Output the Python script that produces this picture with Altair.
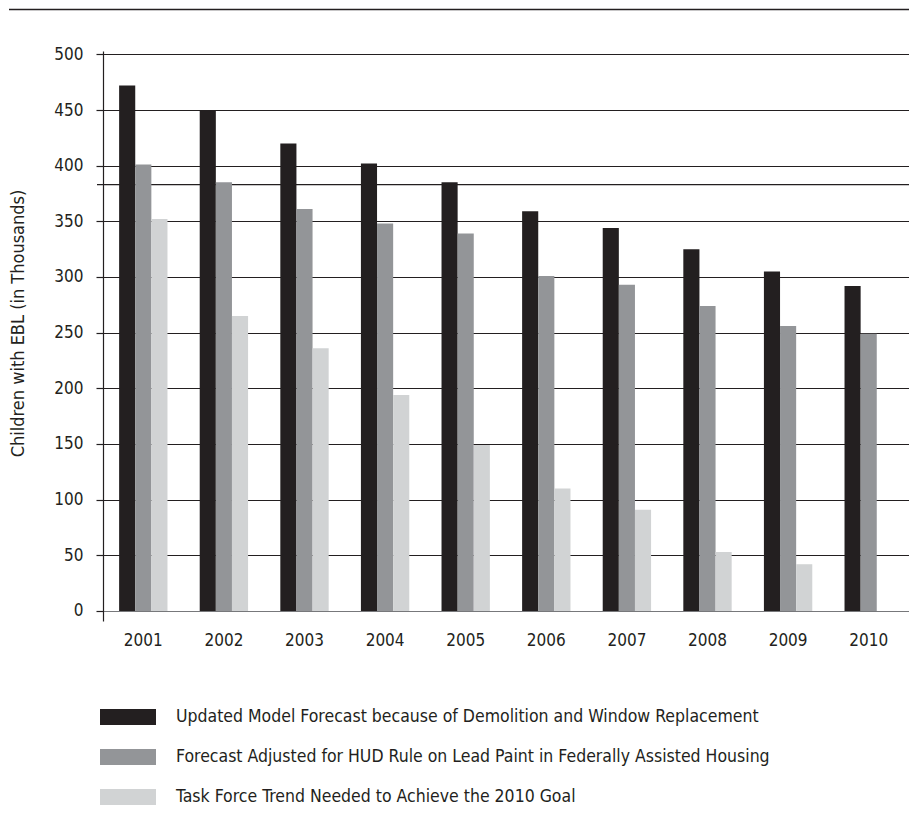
import altair as alt
import pandas as pd

years = ["2001", "2002", "2003", "2004", "2005", "2006", "2007", "2008", "2009", "2010"]
series = [
    "Updated Model Forecast because of Demolition and Window Replacement",
    "Forecast Adjusted for HUD Rule on Lead Paint in Federally Assisted Housing",
    "Task Force Trend Needed to Achieve the 2010 Goal",
]
updated_model = [472, 449, 420, 402, 385, 359, 344, 325, 305, 292]
hud_adjusted = [401, 385, 361, 348, 339, 301, 293, 274, 256, 249]
task_force = [352, 265, 236, 194, 149, 110, 91, 53, 42, None]
colors = ["#231f20", "#939598", "#d1d3d4"]
y_ticks = [0, 50, 100, 150, 200, 250, 300, 350, 400, 450, 500]
extra_line = [383]

rows = []
for s, vals in zip(series, [updated_model, hud_adjusted, task_force]):
    for yr, v in zip(years, vals):
        if v is not None:
            rows.append({"Year": yr, "Series": s, "Value": v})
df = pd.DataFrame(rows)

FONT = "DejaVu Sans Condensed, Liberation Sans Narrow, sans-serif"
TXT = "#231f20"

W, H = 806, 570

top_rule = alt.Chart(pd.DataFrame({"a": [0]})).mark_rule(
    color=TXT, strokeWidth=1.5, clip=False
).encode(x=alt.value(-94), x2=alt.value(W + 8), y=alt.value(-41.5))

ref_line = alt.Chart(pd.DataFrame({"v": extra_line})).mark_rule(
    color=TXT, strokeWidth=1.2
).encode(
    y=alt.Y("v:Q", scale=alt.Scale(domain=[-9, 503], nice=False, zero=False)),
    x=alt.value(-6),
    x2=alt.value(W + 8),
)

bars = alt.Chart(df).mark_bar().encode(
    x=alt.X(
        "Year:N",
        sort=years,
        scale=alt.Scale(paddingInner=0, paddingOuter=0),
        axis=alt.Axis(
            title=None, ticks=False, domain=False, labelAngle=0,
            labelFont=FONT, labelFontSize=17, labelColor=TXT, labelPadding=11,
        ),
    ),
    xOffset=alt.XOffset("Series:N", sort=series, scale=alt.Scale(paddingInner=0, paddingOuter=1)),
    y=alt.Y(
        "Value:Q",
        scale=alt.Scale(domain=[-9, 503], nice=False, zero=False),
        axis=alt.Axis(
            values=y_ticks,
            title="Children with EBL (in Thousands)",
            titleFont=FONT, titleFontSize=18, titleFontWeight="normal", titleColor=TXT,
            titleAngle=-90, titleBaseline="middle", titleAlign="center",
            titleX=-85, titleY=272,
            labelFont=FONT, labelFontSize=17, labelColor=TXT, labelPadding=13,
            tickSize=7, tickColor=TXT, tickWidth=1.2,
            domainColor=TXT, domainWidth=1.2,
            grid=True, gridWidth=1.2,
            gridColor={"condition": {"test": "datum.value === 0", "value": "#77787b"}, "value": TXT},
        ),
    ),
    color=alt.Color(
        "Series:N",
        sort=series,
        scale=alt.Scale(domain=series, range=colors),
        legend=alt.Legend(
            title=None, orient="none", legendX=11, legendY=652, direction="vertical",
            symbolType="M-2,-0.571L2,-0.571L2,0.571L-2,0.571Z",
            symbolSize=784, symbolStrokeWidth=0, symbolOpacity=1,
            labelFont=FONT, labelFontSize=17.5, labelColor=TXT, labelOffset=34,
            labelLimit=800, rowPadding=17,
        ),
    ),
)

chart = alt.layer(top_rule, ref_line, bars).properties(
    width=W, height=H,
    autosize=alt.AutoSizeParams(type="none"),
    padding={"left": 95, "top": 43, "right": 0, "bottom": 186},
).configure_view(stroke=None).configure_axisX(grid=False)

chart.save("out.html", embed_options={"renderer": "svg", "actions": False})
